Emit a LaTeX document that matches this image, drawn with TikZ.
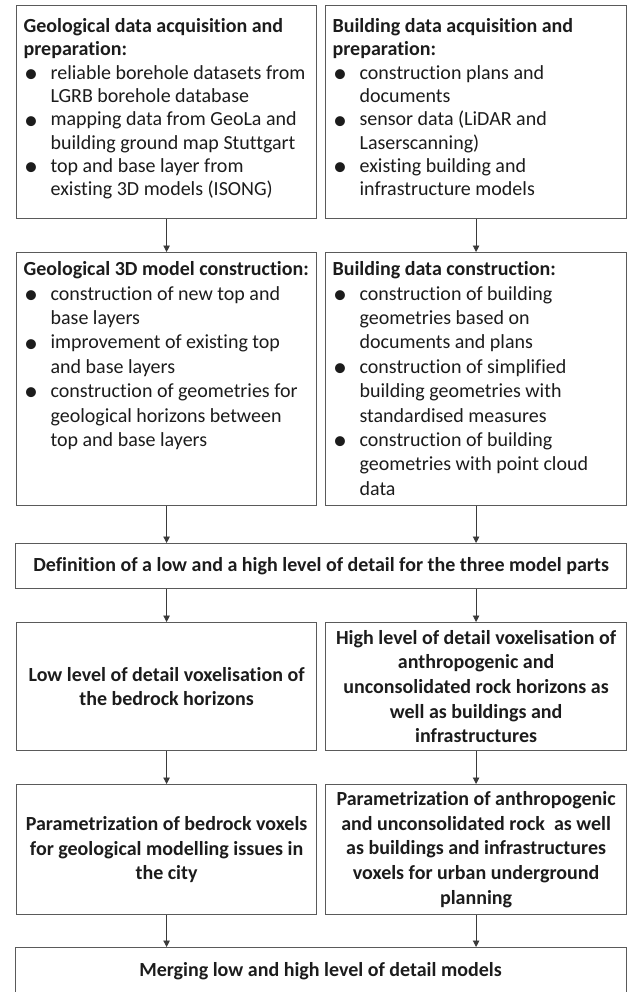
\documentclass[tikz,border=0pt]{standalone}
\usepackage{fontspec}
\setmainfont[Ligatures={NoCommon}]{Carlito}
\usetikzlibrary{arrows.meta}

\definecolor{boxline}{HTML}{5A5A5A}
\definecolor{arrline}{HTML}{3A3A3A}
\definecolor{txt}{HTML}{1C1C1C}

% bulleted item with a hanging indent
\newcommand{\bul}{\par\hangindent=27pt\hangafter=1\noindent\makebox[27pt][l]{\hspace{0.5pt}\raisebox{-0.35ex}{\scalebox{1.4}{\textbullet}}}\ignorespaces}
% top-aligned text block: height, width, baselineskip, first baseline, content
\newcommand{\toptext}[5]{\parbox[c][#1][t]{#2}{\fontsize{20}{#3}\selectfont\raggedright\rule{0pt}{#4}#5}}

\begin{document}
\begin{tikzpicture}[x=1pt,y=-1pt,
  listbox/.style={draw=boxline, line width=1.2pt, fill=white, text=txt,
    anchor=north west, inner xsep=7pt, inner ysep=0pt},
  cbox/.style={draw=boxline, line width=1.2pt, fill=white, text=txt,
    anchor=north west, inner sep=0pt, align=center,
    font=\bfseries\fontsize{20}{24.6}\selectfont},
  arr/.style={draw=arrline, line width=0.9pt, -{Triangle[width=6.5pt,length=6.5pt]}}]

\fill[white] (0,0) rectangle (628,992);
\clip (0,0) rectangle (628,992);
\useasboundingbox (0,0) rectangle (628,992);

% data acquisition
\node[listbox] (geoacq) at (16,5) {\toptext{213pt}{286pt}{23.3pt}{27pt}{%
  \textbf{Geological data acquisition and\newline preparation:}
  \bul reliable borehole datasets from\newline LGRB borehole database
  \bul mapping data from GeoLa and\newline building ground map Stuttgart
  \bul top and base layer from\newline existing 3D models (ISONG)}};
\node[listbox] (bldacq) at (325,5) {\toptext{213pt}{287pt}{23.3pt}{27pt}{%
  \textbf{Building data acquisition and\newline preparation:}
  \bul construction plans and\newline documents
  \bul sensor data (LiDAR and\newline Laserscanning)
  \bul existing building and\newline infrastructure models}};

% model construction
\node[listbox] (geomod) at (16,252) {\toptext{253pt}{286pt}{24.4pt}{23pt}{%
  \textbf{Geological 3D model construction:}
  \bul construction of new top and\newline base layers
  \bul improvement of existing top\newline and base layers
  \bul construction of geometries for\newline geological horizons between\newline top and base layers}};
\node[listbox] (bldmod) at (325,252) {\toptext{253pt}{287pt}{24.4pt}{23pt}{%
  \textbf{Building data construction:}
  \bul construction of building\newline geometries based on\newline documents and plans
  \bul construction of simplified\newline building geometries with\newline standardised measures
  \bul construction of building\newline geometries with point cloud\newline data}};

% level of detail
\node[cbox, minimum width=611pt, minimum height=45pt] (lod) at (15,543)
  {Definition of a low and a high level of detail for the three model parts};

\node[cbox, minimum width=300pt, minimum height=128pt] (lowvox) at (16,622)
  {Low level of detail voxelisation of\\the bedrock horizons};
\node[cbox, minimum width=301pt, minimum height=128pt] (highvox) at (325,622)
  {High level of detail voxelisation of\\anthropogenic and\\unconsolidated rock horizons as\\well as buildings and\\infrastructures};

% parametrization
\node[cbox, minimum width=300pt, minimum height=130pt] (lowpar) at (16,784)
  {Parametrization of bedrock voxels\\for geological modelling issues in\\the city};
\node[cbox, minimum width=301pt, minimum height=130pt] (highpar) at (325,784)
  {Parametrization of anthropogenic\\and unconsolidated rock\ \ as well\\as buildings and infrastructures\\voxels for urban underground\\planning};

% merged model
\node[cbox, minimum width=611pt, minimum height=56pt] (merge) at (15,947) {};
\node[font=\bfseries\fontsize{20}{24.6}\selectfont, text=txt, inner sep=0pt]
  (mergetext) at (320.5,971) {Merging low and high level of detail models};

% connectors
\draw[arr] (geoacq.south) -- (geomod.north);
\draw[arr] (bldacq.south) -- (bldmod.north);
\draw[arr] (geomod.south) -- (geomod.south |- lod.north);
\draw[arr] (bldmod.south) -- (bldmod.south |- lod.north);
\draw[arr] (lowvox.north |- lod.south) -- (lowvox.north);
\draw[arr] (highvox.north |- lod.south) -- (highvox.north);
\draw[arr] (lowvox.south) -- (lowpar.north);
\draw[arr] (highvox.south) -- (highpar.north);
\draw[arr] (lowpar.south) -- (lowpar.south |- merge.north);
\draw[arr] (highpar.south) -- (highpar.south |- merge.north);
\end{tikzpicture}
\end{document}
